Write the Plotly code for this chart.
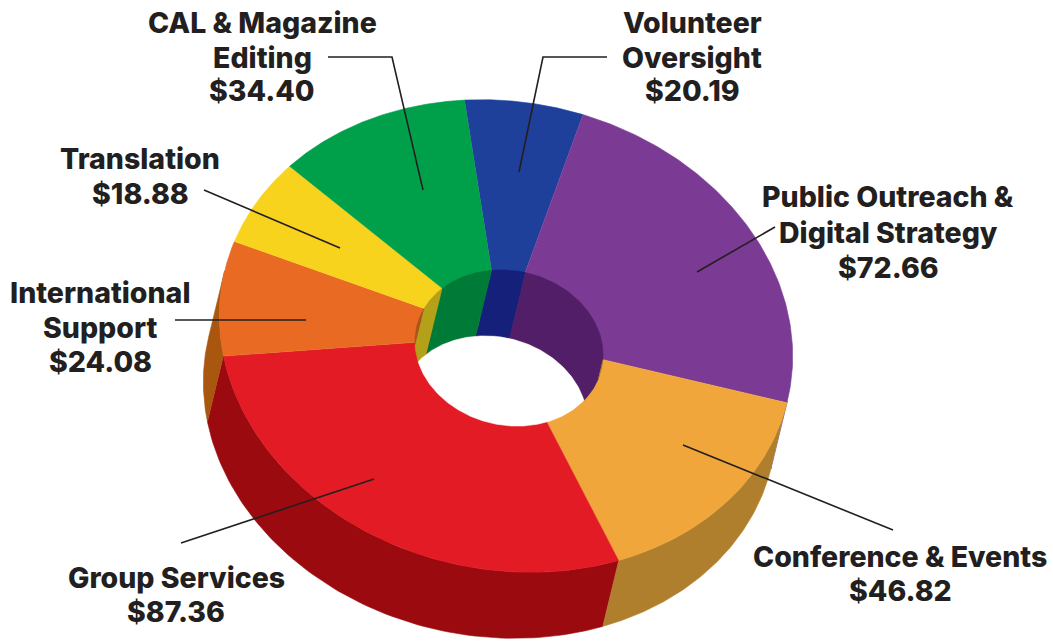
import numpy as np
import plotly.graph_objects as go

# Budget categories, clockwise from the top of the ring
categories = ["Volunteer Oversight", "Public Outreach & Digital Strategy", "Conference & Events",
              "Group Services", "International Support", "Translation", "CAL & Magazine Editing"]
values = [20.19, 72.66, 46.82, 87.36, 24.08, 18.88, 34.40]
top_colors = ["#1E3F9A", "#7B3B94", "#F0A63A", "#E21B25", "#E96A22", "#F7D31E", "#00A04A"]
outer_wall_colors = ["#14207A", "#521E68", "#B07F2E", "#9B0A0E", "#A9560F", "#B5A01A", "#007A37"]
inner_wall_colors = ["#14207A", "#521E68", "#B07F2E", "#9B0A0E", "#A8541A", "#B5A01A", "#007A37"]

# One row per text line: text, centre x, centre y
label_rows = [
    ("CAL & Magazine", 262, 22), ("Editing", 262, 57), ("$34.40", 262, 90),
    ("Volunteer", 692, 22), ("Oversight", 692, 57), ("$20.19", 692, 90),
    ("Public Outreach &", 888, 196), ("Digital Strategy", 888, 232), ("$72.66", 888, 267),
    ("Conference & Events", 900, 556), ("$46.82", 900, 590),
    ("Group Services", 176, 577), ("$87.36", 176, 611),
    ("International", 100, 292), ("Support", 100, 327), ("$24.08", 100, 361),
    ("Translation", 140, 158), ("$18.88", 140, 193),
]
leaders = [
    ([328, 392, 423], [57, 57, 190]),
    ([607, 543, 519], [57, 57, 172]),
    ([775, 697], [227, 272]),
    ([893, 683], [530, 445]),
    ([181, 374], [543, 479]),
    ([175, 306], [320, 320]),
    ([204, 340], [190, 248]),
]

# Ring geometry in page pixels; the skew terms tilt the ellipses the way the view does
OUTER = dict(c=np.array([506.0, 336.0]), m=np.array([[286.5, -10.0], [12.0, -236.0]]))
INNER = dict(c=np.array([509.0, 348.0]), m=np.array([[94.0, -3.3], [4.0, -78.0]]))
APEX = np.array([502.0, 336.0])
DEPTH = np.array([-16.0, 66.0])
START_DEG = -6.3


def ellipse_point(e, deg):
    t = np.radians(np.atleast_1d(deg))
    return e["c"] + np.column_stack([np.sin(t), np.cos(t)]) @ e["m"].T


def to_unit(e, p):
    return np.linalg.solve(e["m"], np.asarray(p) - e["c"])


def param_of(e, p):
    s, c = to_unit(e, p)
    return np.degrees(np.arctan2(s, c)) % 360


def ray_exit(e, origin, direction):
    # Distance along a ray to the far crossing of the ellipse rim, in units of the direction
    o = to_unit(e, origin)
    d = np.linalg.solve(e["m"], np.asarray(direction))
    a, b, c = d @ d, 2 * o @ d, o @ o - 1
    return (-b + np.sqrt(max(b * b - 4 * a * c, 0.0))) / (2 * a)


def tangent_deg(e):
    # Rim parameter at which the extrusion direction runs along the rim
    (a, s), (t, d) = e["m"][0], e["m"][1]
    s, d = -s, -d
    return np.degrees(np.arctan2(-(a * DEPTH[1] - t * DEPTH[0]), s * DEPTH[1] - d * DEPTH[0])) % 180


def arc_span(a, b, lo, hi):
    # Part of the clockwise arc a..b that falls inside the clockwise window lo..hi
    for shift in (-360, 0, 360):
        s, e = max(a + shift, lo), min(b + shift, hi)
        if e > s:
            return s, e
    return None


shares = np.array(values) / np.sum(values) * 360
edges = START_DEG + np.concatenate([[0], np.cumsum(shares)])
outer_lo = tangent_deg(OUTER)
inner_hi = tangent_deg(INNER)

fig = go.Figure()


def add_poly(points, color, name):
    fig.add_trace(go.Scatter(
        x=points[:, 0], y=points[:, 1], mode="lines", fill="toself", fillcolor=color,
        line=dict(color=color, width=0.6), name=name, hoverinfo="name", showlegend=False,
    ))


# Outer wall: front half of the rim swept along the extrusion
for i, cat in enumerate(categories):
    span = arc_span(edges[i], edges[i + 1], outer_lo, outer_lo + 180)
    if span:
        arc = ellipse_point(OUTER, np.linspace(span[0], span[1], 80))
        add_poly(np.vstack([arc, arc[::-1] + DEPTH]), outer_wall_colors[i], cat)

# Top face: wedges running to the apex, the hole is painted over them afterwards
for i, cat in enumerate(categories):
    arc = ellipse_point(OUTER, np.linspace(edges[i], edges[i + 1], 120))
    add_poly(np.vstack([APEX, arc]), top_colors[i], cat)

# Inner wall: back of the hole rim, swept down but kept inside the hole opening
inner_edges = []
for deg in edges:
    d = ellipse_point(OUTER, deg)[0] - APEX
    inner_edges.append(param_of(INNER, APEX + d * ray_exit(INNER, APEX, d)))
inner_edges = np.unwrap(np.array(inner_edges), period=360)
inner_edges += 360 * np.round((edges[0] - inner_edges[0]) / 360)

for i, cat in enumerate(categories):
    span = arc_span(inner_edges[i], inner_edges[i + 1], inner_hi - 180, inner_hi)
    if span:
        arc = ellipse_point(INNER, np.linspace(span[0], span[1], 60))
        swept = [p + DEPTH * min(1.0, max(ray_exit(INNER, p, DEPTH), 0.0)) for p in arc]
        add_poly(np.vstack([arc, np.array(swept)[::-1]]), inner_wall_colors[i], cat + " (inner)")

# White opening: overlap of the hole's top rim and the same rim shifted by the depth
LOWER = dict(c=INNER["c"] + DEPTH, m=INNER["m"])
middle = INNER["c"] + DEPTH / 2
opening = []
for deg in np.linspace(0, 360, 361):
    d = np.array([np.sin(np.radians(deg)), -np.cos(np.radians(deg))])
    opening.append(middle + d * min(ray_exit(INNER, middle, d), ray_exit(LOWER, middle, d)))
add_poly(np.array(opening), "#FFFFFF", "hole")

# Leader lines from each label into its slice
for lx, ly in leaders:
    fig.add_trace(go.Scatter(x=lx, y=ly, mode="lines", line=dict(color="#231F20", width=1.6),
                             hoverinfo="skip", showlegend=False))

for text, x, y in label_rows:
    fig.add_annotation(x=x, y=y, text=text, showarrow=False, xanchor="center", yanchor="middle",
                       font=dict(family="Inter", size=28.5, color="#231F20", weight=800))

fig.update_layout(
    width=1053, height=643, margin=dict(l=0, r=0, t=0, b=0),
    paper_bgcolor="#FFFFFF", plot_bgcolor="#FFFFFF", showlegend=False,
    xaxis=dict(range=[0, 1053], visible=False, fixedrange=True),
    yaxis=dict(range=[643, 0], visible=False, fixedrange=True),
)
fig.write_html("out.html", config=dict(displayModeBar=False))
